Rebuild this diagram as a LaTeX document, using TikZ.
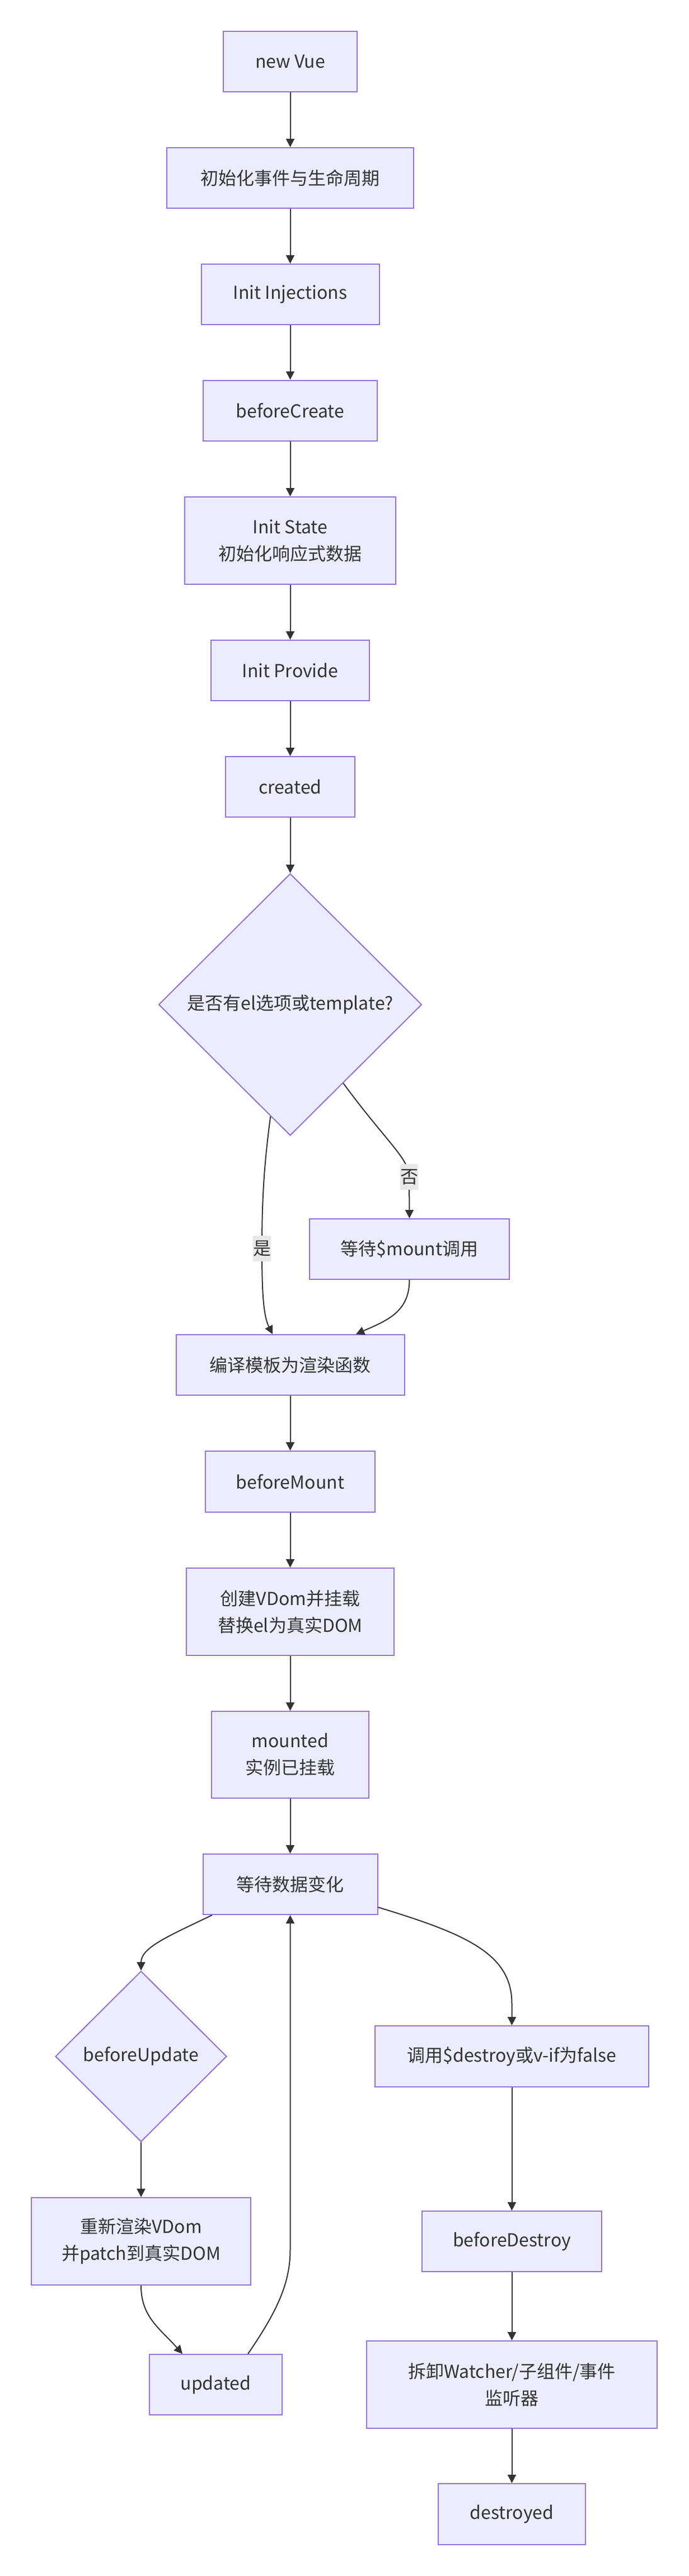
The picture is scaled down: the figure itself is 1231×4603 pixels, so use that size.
\documentclass[tikz,border=0pt]{standalone}
\usepackage{fontspec}
\setmainfont{Noto Sans CJK SC}
\usetikzlibrary{shapes.geometric,arrows.meta}
\definecolor{nfill}{HTML}{ECECFF}
\definecolor{nline}{HTML}{9370DB}
\definecolor{ecol}{HTML}{333333}
\definecolor{lbg}{HTML}{E8E8E8}
\begin{document}
\begin{tikzpicture}[x=1pt,y=-1pt,
  box/.style={draw=nline,fill=nfill,line width=2pt,inner sep=0pt,align=center,text=ecol,font=\fontsize{32}{48}\selectfont},
  dia/.style={box,shape=diamond},
  edge/.style={draw=ecol,line width=2pt,-{Triangle[length=15pt,width=15pt]}},
  elabel/.style={fill=lbg,inner sep=0pt,minimum width=32pt,minimum height=46pt,text=ecol,font=\fontsize{32}{48}\selectfont}]
\useasboundingbox (0,0) rectangle (1231,4603);
\fill[white] (0,0) rectangle (1231,4603);
% main column
\node[box,minimum width=239pt,minimum height=108pt] (vue) at (518.5,110) {new Vue};
\node[box,minimum width=441pt,minimum height=108pt] (init1) at (518.5,318) {初始化事件与生命周期};
\node[box,minimum width=318pt,minimum height=108pt] (inj) at (518.5,526) {Init Injections};
\node[box,minimum width=311pt,minimum height=108pt] (bc) at (518.5,733.5) {beforeCreate};
\node[box,minimum width=377pt,minimum height=156pt] (state) at (518.5,966) {Init State\\初始化响应式数据};
\node[box,minimum width=283pt,minimum height=108pt] (prov) at (518.5,1198) {Init Provide};
\node[box,minimum width=231pt,minimum height=108pt] (created) at (518.5,1406) {created};
\node[dia,minimum width=470pt,minimum height=468pt] (dec) at (518.5,1795) {是否有el选项或template?};
\node[box,minimum width=357pt,minimum height=108pt] (mount) at (731.5,2232) {等待\$mount调用};
\node[box,minimum width=408pt,minimum height=108pt] (compile) at (518.5,2439) {编译模板为渲染函数};
\node[box,minimum width=303pt,minimum height=109pt] (bm) at (518.5,2647.5) {beforeMount};
\node[box,minimum width=371pt,minimum height=156pt] (vdom) at (518.5,2880) {创建VDom并挂载\\替换el为真实DOM};
\node[box,minimum width=281pt,minimum height=155pt] (mounted) at (518.5,3135.5) {mounted\\实例已挂载};
\node[box,minimum width=312pt,minimum height=108pt] (wait) at (518.5,3367) {等待数据变化};
% update branch
\node[dia,minimum width=306pt,minimum height=305pt] (bu) at (252,3674.5) {beforeUpdate};
\node[box,minimum width=392pt,minimum height=156pt] (rerender) at (252,4005) {重新渲染VDom\\并patch到真实DOM};
\node[box,minimum width=237pt,minimum height=108pt] (upd) at (385.5,4261) {updated};
% destroy branch
\node[box,minimum width=489pt,minimum height=109pt] (destroy) at (914.5,3674.5) {调用\$destroy或v-if为false};
\node[box,minimum width=321pt,minimum height=108pt] (bd) at (914.5,4005) {beforeDestroy};
\node[box,minimum width=519pt,minimum height=156pt] (unload) at (914.5,4261) {拆卸Watcher/子组件/事件\\监听器};
\node[box,minimum width=263pt,minimum height=109pt] (destroyed) at (914.5,4492.5) {destroyed};
% helper coordinates
\coordinate (yesp) at (468,2231);
\coordinate (nop) at (731,2103);
\coordinate (dturn) at (914.5,3580);
\coordinate (uturn) at (518.5,4020);
% straight edges
\draw[edge] (vue) -- (init1);
\draw[edge] (init1) -- (inj);
\draw[edge] (inj) -- (bc);
\draw[edge] (bc) -- (state);
\draw[edge] (state) -- (prov);
\draw[edge] (prov) -- (created);
\draw[edge] (created) -- (dec.north);
\draw[edge] (compile) -- (bm);
\draw[edge] (bm) -- (vdom);
\draw[edge] (vdom) -- (mounted);
\draw[edge] (mounted) -- (wait);
\draw[edge] (bu.south) -- (rerender);
\draw[edge] (destroy) -- (bd);
\draw[edge] (bd) -- (unload);
\draw[edge] (unload) -- (destroyed);
% curved edges
\draw[edge] (dec.260) .. controls (472,2080) and (468,2140) .. (yesp) .. controls (468,2305) and (470,2350) .. ([xshift=-31.5pt]compile.north);
\draw[edge] (dec.304.4) .. controls (690,2040) and (731,2070) .. (nop) -- (mount.north);
\draw[edge] (mount.south) .. controls (731.5,2345) and (690,2360) .. ([xshift=117.5pt]compile.north);
\draw[edge] ([xshift=-139.5pt]wait.south) .. controls (300,3460) and (252,3480) .. (bu.north);
\draw[edge] ([yshift=-41pt]wait.east) .. controls (830,3455) and (914.5,3490) .. (dturn) -- (destroy.north);
\draw[edge] (rerender.south) .. controls (252,4140) and (285,4160) .. ([xshift=-59.5pt]upd.north);
\draw[edge] ([xshift=57.5pt]upd.north) .. controls (495,4130) and (518.5,4080) .. (uturn) -- (wait.south);
% edge labels
\node[elabel] (lyes) at (yesp) {是};
\node[elabel] (lno) at (nop) {否};
\end{tikzpicture}
\end{document}
